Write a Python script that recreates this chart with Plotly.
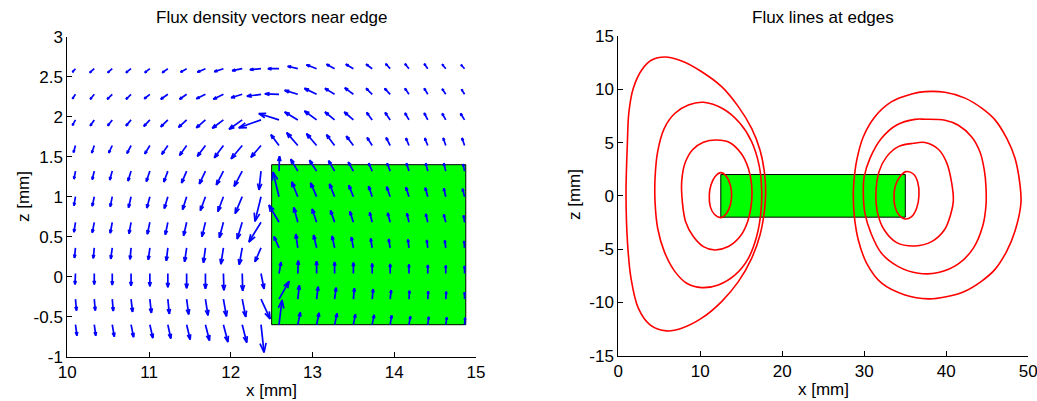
import plotly.graph_objects as go

# ---------------- Left panel: flux density vectors near edge ----------------
X_GRID = [10.10, 10.33, 10.55, 10.78, 11.01, 11.23, 11.46, 11.69, 11.91, 12.14, 12.37,
          12.59, 12.82, 13.05, 13.27, 13.50, 13.73, 13.95, 14.18, 14.41, 14.63, 14.86]
Z_GRID = [-0.60, -0.28, 0.04, 0.36, 0.68, 1.00, 1.32, 1.64, 1.96, 2.28, 2.60]

# field components (arbitrary units) per row, bottom row first
U_ROWS = [
    [1.5, 1.5, 2, 2.5, 3, 3, 3.5, 4, 4.5, 4.5, 3, 3, 2.5, 2.5, 2.5, 2, 2, 1.5, 1.5, 1, 1, 0.5],
    [1, 1, 1, 1.5, 1.5, 1.5, 2, 2.5, 3, 3.5, 9, 10, 1.5, 1.5, 1.5, 1, 1, 1, 0.5, 0.5, 0.5, 0],
    [-0.5, 0, 0, 0, 0, 0, 0, 0, 0.5, 0.5, 3, 2, 0.5, 0, 0, 0, 0, 0, 0, 0, 0, 0],
    [-1, -1, -1.5, -1, -1.5, -1.5, -2, -2, -2.5, -3, -6, -5, -2, -3, -2.5, -2, -1.5, -1.5, -1, -1, -1, -0.5],
    [-1.5, -2, -2, -2, -2.5, -2.5, -3, -3.5, -4, -5, -12, -10, -4, -4.5, -4, -3.5, -2.5, -2.5, -2, -2, -2, -1],
    [-1.5, -2, -2, -2.5, -3, -3.5, -4, -5, -5.5, -7, -6, -6, -6, -6, -5, -4.5, -3.5, -3.5, -3, -2.5, -2, -2],
    [-1.5, -2, -2.5, -3, -3.5, -4, -5, -6, -7, -8, -2, 0.5, -7, -7, -6, -5, -3.5, -3, -2.5, -2, -2, -1.5],
    [-2, -2.5, -3.5, -4, -5, -6, -7, -8, -9, -11, -10, -8, -11, -10, -8, -7, -5, -4, -3, -3, -2.5, -2.5],
    [-3, -4, -4.5, -5, -6, -7, -8, -9, -11, -13, -22, -20, -13, -12, -9.5, -9, -5.5, -5, -4, -3.5, -3.5, -4],
    [-3, -4, -5, -5, -5.5, -7, -7, -9, -10, -11, -14, -14, -13, -12, -9.5, -8.5, -6, -5.5, -4, -3.5, -3.5, -3],
    [-3, -4.5, -4.5, -5, -5, -5.5, -6, -8, -9, -10, -11, -11, -10, -10, -8, -7.5, -6, -4.5, -4, -3.5, -3.5, -3.5],
]
V_ROWS = [
    [-11, -11, -12, -12.5, -13.5, -14, -15, -16, -17.5, -18, -28, 25, 12.5, 12, 11.5, 10.5, 10, 9.5, 8.5, 8, 7.5, 7],
    [-11.5, -11.5, -12, -13, -14, -15, -15.5, -16.5, -17.5, -18, -20, 18, 14, 12.5, 11.5, 11, 10, 9, 8.5, 8, 7.5, 7],
    [-11, -11, -11.5, -12.5, -13, -14, -15, -15.5, -17, -17.5, -15.5, 11.5, 13, 12.5, 11.5, 11, 10, 9.5, 9, 8.5, 8, 7.5],
    [-10, -10.5, -11, -11.5, -12, -13, -14, -15, -16.5, -17, -14, 11.5, 14, 13, 12, 11, 9.5, 9, 8.5, 8, 7.5, 7],
    [-10, -10.5, -11, -11.5, -12, -12.5, -13.5, -14.5, -15.5, -17, -20, 17.5, 15, 13.5, 12, 11, 10, 9.5, 9, 8.5, 8, 7],
    [-9, -9.5, -10, -11, -11.5, -12, -13, -14, -15, -17, -25, 25, 15, 14, 13, 11.5, 10.5, 10, 9.5, 9, 8.5, 8],
    [-8, -8.5, -9, -10, -10.5, -11, -12, -13, -14, -15.5, -19, 15, 12, 11, 10.5, 9, 8, 8, 8, 8, 8, 7],
    [-7, -7.5, -7.5, -8, -8.5, -9, -10, -11, -12.5, -13.5, -12, 11, 13, 12, 11, 9.5, 8, 8, 7.5, 7.5, 7.5, 7.5],
    [-5.5, -6, -6, -6, -6.5, -7, -7.5, -8, -8.5, -9.5, -8, 6.5, 8, 9, 8, 8, 7.5, 7.5, 7, 7, 6.5, 6.5],
    [-4.5, -5, -5, -5, -4.5, -5, -5, -4.5, -5, -3.5, -2, 0.5, 4, 6, 6, 6.5, 6, 6, 6, 6, 5.5, 5],
    [-3.5, -4, -4, -4, -4, -4, -3.5, -3.5, -3, -2, -1, 0, 2.5, 4, 4.5, 4.5, 4.5, 5, 5, 5, 4.5, 4],
]
QUIVER_SCALE = 1.0 / 81.0   # mm per field unit

MAGNET_EDGE_X = [12.5, 14.875, 14.875, 12.5, 12.5]
MAGNET_EDGE_Z = [-0.6, -0.6, 1.4, 1.4, -0.6]

# ---------------- Right panel: flux lines at edges ----------------
MAGNET_X = [12.5, 35.0, 35.0, 12.5, 12.5]
MAGNET_Z = [-2.0, -2.0, 2.0, 2.0, -2.0]

LOOP_L1_X = [12.52, 11.79, 11.30, 11.10, 11.22, 11.71, 12.52, 13.21, 13.66, 13.82, 13.66, 13.21, 12.52]
LOOP_L1_Z = [2.18, 1.80, 1.02, 0.08, -1.01, -1.73, -2.04, -1.63, -0.85, 0.08, 1.02, 1.80, 2.18]
LOOP_L2_X = [12.00, 10.37, 9.03, 8.13, 7.73, 7.81, 8.21, 9.15, 10.37, 11.79, 13.42, 14.84, 15.77,
             16.26, 16.26, 15.86, 14.97, 13.62, 12.00]
LOOP_L2_Z = [5.24, 5.02, 4.30, 3.05, 1.33, -0.54, -2.42, -3.82, -4.76, -5.08, -4.76, -3.82, -2.42,
             -0.54, 1.02, 2.59, 3.99, 4.99, 5.24]
LOOP_L3_X = [10.37, 8.54, 6.91, 5.61, 4.80, 4.48, 4.48, 4.80, 5.61, 6.91, 8.34, 10.17, 12.20, 14.24,
             15.86, 16.87, 17.40, 17.48, 17.16, 16.26, 14.84, 12.81, 10.37]
LOOP_L3_Z = [8.78, 8.53, 7.75, 6.34, 4.15, 1.65, -0.54, -3.04, -5.23, -7.11, -8.20, -8.61, -8.36, -7.42,
             -5.86, -3.82, -1.48, 0.71, 2.90, 5.09, 6.81, 8.15, 8.78]
LOOP_L4_X = [5.70, 4.07, 2.85, 1.83, 1.30, 1.10, 0.94, 1.14, 1.55, 2.44, 3.87, 5.90, 7.73, 10.17,
             12.60, 14.64, 16.26, 17.28, 17.81, 17.97, 17.81, 17.28, 16.26, 14.64, 12.60, 10.17, 7.73, 5.70]
LOOP_L4_Z = [13.03, 12.75, 11.81, 10.09, 7.90, 4.78, 0.08, -4.60, -7.73, -10.54, -12.10, -12.67, -12.42,
             -11.48, -9.92, -8.05, -5.86, -3.67, -1.48, 0.39, 2.27, 4.30, 6.33, 8.37, 10.25, 11.65, 12.65, 13.03]

LOOP_R1_X = [35.08, 34.34, 33.82, 33.62, 33.74, 34.23, 34.96, 35.77, 36.38, 36.67, 36.50, 35.98, 35.08]
LOOP_R1_Z = [2.27, 1.80, 1.02, 0.08, -1.01, -1.79, -2.17, -1.95, -1.17, 0.08, 1.33, 2.05, 2.27]
LOOP_R2_X = [35.98, 34.15, 32.73, 31.79, 31.42, 31.63, 32.44, 33.95, 36.18, 38.21, 39.76, 40.57,
             40.86, 40.65, 40.04, 39.03, 37.40, 35.98]
LOOP_R2_Z = [4.93, 4.62, 3.68, 2.27, 0.23, -1.64, -3.21, -4.39, -4.70, -4.30, -3.21, -1.64,
             -0.47, 1.25, 3.12, 4.37, 5.00, 4.93]
LOOP_R3_X = [37.40, 36.18, 33.95, 32.10, 30.69, 29.99, 29.88, 30.08, 30.82, 32.10, 34.15, 36.59,
             39.03, 41.47, 43.30, 44.45, 44.84, 44.84, 44.64, 44.11, 43.10, 41.47, 39.84, 37.40]
LOOP_R3_Z = [7.19, 7.18, 6.65, 5.40, 3.52, 1.80, 0.23, -1.64, -3.52, -5.39, -6.64, -7.26,
             -7.20, -6.39, -4.90, -2.80, -0.88, 0.84, 2.40, 4.12, 5.53, 6.62, 7.09, 7.19]
LOOP_R4_X = [37.40, 35.78, 33.34, 31.30, 29.88, 29.08, 28.75, 28.66, 28.79, 29.27, 30.29, 32.12,
             34.96, 37.81, 39.84, 42.28, 44.32, 45.94, 47.36, 48.38, 49.10, 48.99, 48.38, 47.36,
             45.94, 44.32, 42.28, 39.84, 37.40]
LOOP_R4_Z = [9.78, 9.56, 8.84, 7.43, 5.55, 3.36, 1.49, 0.23, -1.95, -4.14, -6.33, -8.20,
             -9.30, -9.67, -9.50, -8.95, -8.00, -6.90, -5.20, -3.30, -0.70, 1.03, 3.53, 5.41,
             7.13, 8.23, 9.17, 9.72, 9.78]

LEFT_X_TICKS = [10, 11, 12, 13, 14, 15]
LEFT_Z_TICKS = [-1, -0.5, 0, 0.5, 1, 1.5, 2, 2.5, 3]
RIGHT_X_TICKS = [0, 10, 20, 30, 40, 50]
RIGHT_Z_TICKS = [-15, -10, -5, 0, 5, 10, 15]

FONT = "Liberation Sans, Arial, Helvetica, sans-serif"
BLUE = "#0000ff"
RED = "#ff0000"
GREEN = "#00ff00"


def tick_text(vals):
    return [("%g" % v) for v in vals]


def quiver_paths():
    alpha, beta = 0.33, 0.33
    xs, ys = [], []
    for j, z0 in enumerate(Z_GRID):
        for i, x0 in enumerate(X_GRID):
            u = U_ROWS[j][i] * QUIVER_SCALE
            v = V_ROWS[j][i] * QUIVER_SCALE
            xe, ze = x0 + u, z0 + v
            xs += [x0, xe, None]
            ys += [z0, ze, None]
            xs += [xe - alpha * (u + beta * v), xe, xe - alpha * (u - beta * v), None]
            ys += [ze - alpha * (v - beta * u), ze, ze - alpha * (v + beta * u), None]
    return xs, ys


fig = go.Figure()

# left panel
fig.add_trace(go.Scatter(x=MAGNET_EDGE_X, y=MAGNET_EDGE_Z, mode="lines", fill="toself",
                         fillcolor=GREEN, line=dict(color="black", width=1),
                         xaxis="x", yaxis="y", hoverinfo="skip", showlegend=False))
qx, qy = quiver_paths()
fig.add_trace(go.Scatter(x=qx, y=qy, mode="lines", line=dict(color=BLUE, width=1.7),
                         xaxis="x", yaxis="y", hoverinfo="skip", showlegend=False))

# right panel
fig.add_trace(go.Scatter(x=MAGNET_X, y=MAGNET_Z, mode="lines", fill="toself",
                         fillcolor=GREEN, line=dict(color="black", width=1),
                         xaxis="x2", yaxis="y2", hoverinfo="skip", showlegend=False))
for lx, lz in [(LOOP_L1_X, LOOP_L1_Z), (LOOP_L2_X, LOOP_L2_Z), (LOOP_L3_X, LOOP_L3_Z),
               (LOOP_L4_X, LOOP_L4_Z), (LOOP_R1_X, LOOP_R1_Z), (LOOP_R2_X, LOOP_R2_Z),
               (LOOP_R3_X, LOOP_R3_Z), (LOOP_R4_X, LOOP_R4_Z)]:
    fig.add_trace(go.Scatter(x=lx, y=lz, mode="lines",
                             line=dict(color=RED, width=1.6, shape="spline", smoothing=1.0),
                             xaxis="x2", yaxis="y2", hoverinfo="skip", showlegend=False))

W, H = 1037, 401
axis_common = dict(showgrid=False, zeroline=False, showline=True, linecolor="black",
                   linewidth=1, ticks="inside", ticklen=5, tickcolor="black", mirror=False,
                   automargin=False, ticklabeloverflow="allow",
                   tickfont=dict(family=FONT, size=17, color="black"))

fig.update_layout(
    width=W, height=H,
    margin=dict(l=0, r=0, t=0, b=0, autoexpand=False),
    paper_bgcolor="white", plot_bgcolor="white",
    showlegend=False,
    xaxis=dict(domain=[67.3 / W, 476 / W], range=[10, 15], tickmode="array",
               tickvals=LEFT_X_TICKS, ticktext=tick_text(LEFT_X_TICKS), anchor="y", **axis_common),
    yaxis=dict(domain=[(H - 356.7) / H, (H - 36.7) / H], range=[-1, 3], tickmode="array",
               tickvals=LEFT_Z_TICKS, ticktext=tick_text(LEFT_Z_TICKS), anchor="x", **axis_common),
    xaxis2=dict(domain=[618.3 / W, 1028.3 / W], range=[0, 50], tickmode="array",
                tickvals=RIGHT_X_TICKS, ticktext=tick_text(RIGHT_X_TICKS), anchor="y2", **axis_common),
    yaxis2=dict(domain=[(H - 355.7) / H, (H - 36) / H], range=[-15, 15], tickmode="array",
                tickvals=RIGHT_Z_TICKS, ticktext=tick_text(RIGHT_Z_TICKS), anchor="x2", **axis_common),
)

ann_font = dict(family=FONT, size=17, color="black")
annotations = [
    dict(text="Flux density vectors near edge", x=(67.3 + 476) / 2 / W, y=1 - 18 / H,
         xref="paper", yref="paper", showarrow=False, font=ann_font, xanchor="center", yanchor="middle"),
    dict(text="Flux lines at edges", x=(618.3 + 1028.3) / 2 / W, y=1 - 17 / H,
         xref="paper", yref="paper", showarrow=False, font=ann_font, xanchor="center", yanchor="middle"),
    dict(text="x [mm]", x=(67.3 + 476) / 2 / W, y=1 - 390 / H,
         xref="paper", yref="paper", showarrow=False, font=ann_font, xanchor="center", yanchor="middle"),
    dict(text="x [mm]", x=(618.3 + 1028.3) / 2 / W, y=1 - 389 / H,
         xref="paper", yref="paper", showarrow=False, font=ann_font, xanchor="center", yanchor="middle"),
    dict(text="z [mm]", x=24 / W, y=1 - 197 / H, textangle=-90,
         xref="paper", yref="paper", showarrow=False, font=ann_font, xanchor="center", yanchor="middle"),
    dict(text="z [mm]", x=574 / W, y=1 - 195 / H, textangle=-90,
         xref="paper", yref="paper", showarrow=False, font=ann_font, xanchor="center", yanchor="middle"),
]
fig.update_layout(annotations=annotations)

fig.write_html("out.html", config={"displayModeBar": False, "responsive": False},
               post_script="document.body.style.margin='0';document.body.style.overflow='hidden';")
